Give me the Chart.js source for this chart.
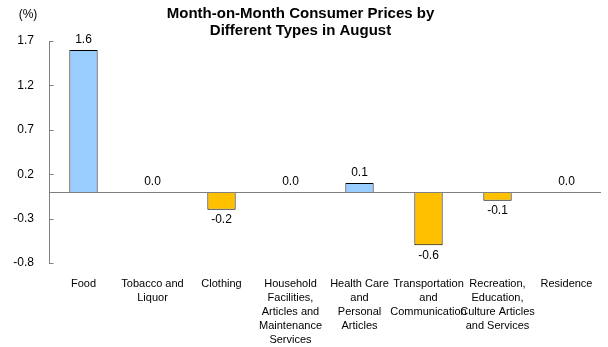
<!DOCTYPE html>
<html>
<head>
<meta charset="utf-8">
<script src="https://cdn.jsdelivr.net/npm/chart.js@4/dist/chart.umd.min.js"></script>
<style>
  html, body { margin: 0; padding: 0; background: #fff; }
  #wrap { width: 608px; height: 347px; }
</style>
</head>
<body>
<div id="wrap"><canvas id="c" width="608" height="347"></canvas></div>
<script>
// Consumer price changes by category, month on month (%)
const categories = [
  ["Food"],
  ["Tobacco and", "Liquor"],
  ["Clothing"],
  ["Household", "Facilities,", "Articles and", "Maintenance", "Services"],
  ["Health Care", "and", "Personal", "Articles"],
  ["Transportation", "and", "Communication"],
  ["Recreation,", "Education,", "Culture Articles", "and Services"],
  ["Residence"]
];
const changes = [1.6, 0.0, -0.2, 0.0, 0.1, -0.6, -0.1, 0.0];
const yTicks = [-0.8, -0.3, 0.2, 0.7, 1.2, 1.7];
const titleLines = ["Month-on-Month Consumer Prices by", "Different Types in August"];
const unitLabel = "(%)";

const RISE = "#99CCFF";
const FALL = "#FFC000";
const AXIS = "#808080";
const FONT = "Arial, 'Liberation Sans', sans-serif";

// inward y tick marks, zero baseline over the bar bases, unit label and value labels
const decorations = {
  id: "decorations",
  afterDatasetsDraw(chart) {
    const { ctx, chartArea, scales: { y } } = chart;
    const y0 = Math.round(y.getPixelForValue(0)) + 0.5;
    ctx.save();
    ctx.strokeStyle = AXIS;
    ctx.lineWidth = 1;
    ctx.beginPath();
    ctx.moveTo(chartArea.left, y0);
    ctx.lineTo(chartArea.right, y0);
    const xa = Math.round(chartArea.left) + 0.5;
    yTicks.forEach(v => {
      const py = Math.round(y.getPixelForValue(v)) + 0.5;
      ctx.moveTo(xa, py);
      ctx.lineTo(xa + 4, py);
    });
    ctx.stroke();

    const meta = chart.getDatasetMeta(0);
    ctx.font = "12px " + FONT;
    ctx.fillStyle = "#000";
    ctx.textAlign = "center";
    ctx.textBaseline = "middle";
    meta.data.forEach((bar, i) => {
      const v = changes[i];
      const py = v < 0 ? bar.y + 10 : bar.y - 10;
      ctx.fillText(v.toFixed(1), bar.x, py);
    });
    ctx.fillText(unitLabel, 28, 15);
    ctx.restore();
  }
};

new Chart(document.getElementById("c"), {
  type: "bar",
  data: {
    labels: categories,
    datasets: [{
      data: changes,
      backgroundColor: changes.map(v => v < 0 ? FALL : RISE),
      borderColor: "#000",
      borderWidth: 1,
      borderSkipped: "start",
      categoryPercentage: 1,
      barPercentage: 0.41
    }]
  },
  options: {
    responsive: false,
    animation: false,
    layout: { padding: { left: 0, right: 7, top: 0, bottom: 0 } },
    plugins: {
      legend: { display: false },
      tooltip: { enabled: false },
      title: {
        display: true,
        text: titleLines,
        color: "#000",
        font: { family: FONT, size: 15, weight: "bold", lineHeight: 1.15 },
        padding: { top: 5, bottom: 1.5 }
      }
    },
    scales: {
      x: {
        afterFit(scale) { scale.height = 84; },
        grid: { display: false, drawTicks: false },
        border: { display: false },
        ticks: {
          color: "#000",
          font: { family: FONT, size: 11, lineHeight: 1.27 },
          padding: 14,
          maxRotation: 0,
          autoSkip: false
        }
      },
      y: {
        min: -0.8,
        max: 1.7,
        afterBuildTicks(scale) {
          scale.ticks = yTicks.map(v => ({ value: v }));
        },
        afterFit(scale) { scale.width = 49; },
        grid: { display: false, drawTicks: false },
        border: { display: true, color: AXIS, width: 1 },
        ticks: {
          color: "#000",
          font: { family: FONT, size: 12 },
          padding: 15,
          callback: v => Number(v).toFixed(1)
        }
      }
    }
  },
  plugins: [decorations]
});
</script>
</body>
</html>
